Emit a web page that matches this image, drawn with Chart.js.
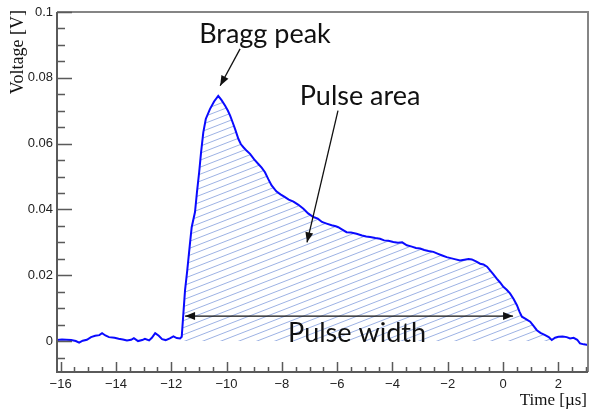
<!DOCTYPE html>
<html>
<head>
<meta charset="utf-8">
<script src="https://cdn.jsdelivr.net/npm/chart.js@4"></script>
<style>
  body { margin: 0; background: #fff; }
  canvas { display: block; }
</style>
</head>
<body>
<canvas id="c" width="590" height="415"></canvas>
<script>
// pulse trace (time in µs, voltage in V)
const time = [
  -16.13, -15.95, -15.80, -15.62, -15.45, -15.33, -15.20, -15.05, -14.90, -14.75,
  -14.60, -14.50, -14.38, -14.25, -14.05, -13.90, -13.75, -13.60, -13.45, -13.35,
  -13.20, -13.05, -12.95, -12.80, -12.70, -12.58, -12.45, -12.33, -12.20, -12.05,
  -11.92, -11.80, -11.68, -11.62, -11.56, -11.50, -11.42, -11.33, -11.26, -11.14,
  -11.07, -10.99, -10.92, -10.84, -10.75, -10.60, -10.45, -10.30, -10.18, -10.05,
  -9.95, -9.87, -9.78, -9.69, -9.57, -9.48, -9.39, -9.27, -9.15, -9.00,
  -8.85, -8.73, -8.61, -8.49, -8.37, -8.20, -8.05, -7.90, -7.75, -7.58,
  -7.40, -7.22, -7.05, -6.86, -6.70, -6.55, -6.38, -6.20, -6.05, -5.96,
  -5.80, -5.66, -5.50, -5.30, -5.10, -4.95, -4.81, -4.62, -4.45, -4.30,
  -4.15, -3.97, -3.80, -3.65, -3.48, -3.30, -3.15, -3.00, -2.85, -2.70,
  -2.52, -2.35, -2.20, -2.04, -1.90, -1.75, -1.56, -1.40, -1.25, -1.13,
  -0.98, -0.83, -0.71, -0.58, -0.47, -0.35, -0.23, -0.11, 0.01, 0.13,
  0.25, 0.38, 0.50, 0.60, 0.68, 0.80, 0.90, 0.98, 1.10, 1.22,
  1.35, 1.52, 1.65, 1.76, 1.88, 2.00, 2.15, 2.30, 2.42, 2.55,
  2.68, 2.78, 2.92, 3.07
];
const voltage = [
  0.0003, 0.0005, 0.0004, 0.0003, 0.0000, -0.0005, 0.0001, 0.0004, 0.0012, 0.0016,
  0.0018, 0.0024, 0.0017, 0.0012, 0.0010, 0.0007, 0.0005, 0.0002, 0.0004, 0.0009,
  0.0000, 0.0003, 0.0007, 0.0002, 0.0010, 0.0024, 0.0016, 0.0006, 0.0003, 0.0008,
  0.0014, 0.0009, 0.0008, 0.0013, 0.0084, 0.0155, 0.0215, 0.0290, 0.0346, 0.0392,
  0.0452, 0.0513, 0.0574, 0.0634, 0.0675, 0.0705, 0.0728, 0.0745, 0.0732, 0.0715,
  0.0700, 0.0685, 0.0665, 0.0644, 0.0614, 0.0598, 0.0589, 0.0578, 0.0569, 0.0552,
  0.0538, 0.0527, 0.0513, 0.0492, 0.0473, 0.0455, 0.0446, 0.0438, 0.0430, 0.0424,
  0.0414, 0.0402, 0.0388, 0.0377, 0.0372, 0.0362, 0.0357, 0.0352, 0.0349, 0.0346,
  0.0338, 0.0331, 0.0330, 0.0326, 0.0321, 0.0318, 0.0316, 0.0313, 0.0311, 0.0306,
  0.0305, 0.0301, 0.0299, 0.0300, 0.0291, 0.0287, 0.0283, 0.0281, 0.0277, 0.0274,
  0.0271, 0.0265, 0.0260, 0.0255, 0.0252, 0.0249, 0.0245, 0.0247, 0.0249, 0.0248,
  0.0242, 0.0235, 0.0233, 0.0226, 0.0215, 0.0203, 0.0190, 0.0178, 0.0165, 0.0156,
  0.0145, 0.0128, 0.0109, 0.0088, 0.0074, 0.0068, 0.0063, 0.0059, 0.0046, 0.0033,
  0.0025, 0.0018, 0.0012, 0.0003, 0.0010, 0.0013, 0.0014, 0.0012, 0.0008, 0.0010,
  0.0004, -0.0007, -0.0010, -0.0012
];

// axis ranges and tick spacing
const xMin = -16.13, xMax = 3.07, xMajor = 2, xMinor = 0.5;
const yMin = -0.0094, yMax = 0.1, yMajor = 0.02, yMinor = 0.005;
// part of the pulse that gets hatched
const pulseStart = -11.62, pulseEnd = 1.76;

const trace = time.map((t, i) => ({x: t, y: voltage[i]}));
const pulse = trace.filter(p => p.x >= pulseStart && p.x <= pulseEnd);

const ctx = document.getElementById('c').getContext('2d');

// slanted hatch like ROOT's fill style
function hatch() {
  const w = 18, h = 7;
  const tile = document.createElement('canvas');
  tile.width = w; tile.height = h;
  const g = tile.getContext('2d');
  g.strokeStyle = '#9db2e4';
  g.lineWidth = 1;
  g.beginPath();
  for (const dy of [-h, 0, h]) {
    g.moveTo(0, h + dy);
    g.lineTo(w, dy);
  }
  g.stroke();
  return ctx.createPattern(tile, 'repeat');
}

const minus = v => String(v).replace('-', '\u2212');
const near = (v, step) => Math.abs(v / step - Math.round(v / step)) < 1e-6;

// text + arrows, given in data coordinates
const labels = [
  {text: 'Bragg peak', x: -8.61, y: 0.0907},
  {text: 'Pulse area', x: -5.17, y: 0.0716},
  {text: 'Pulse width', x: -5.28, y: -0.0003}
];
const arrows = [
  {from: [-9.51, 0.0888], to: [-10.23, 0.0776], both: false},
  {from: [-5.97, 0.0700], to: [-7.09, 0.0300], both: false},
  {from: [0.36, 0.00758], to: [-11.50, 0.00758], both: true}
];

function head(c, x1, y1, x2, y2) {
  const a = Math.atan2(y2 - y1, x2 - x1), len = 10, wd = 4;
  c.beginPath();
  c.moveTo(x2, y2);
  c.lineTo(x2 - len * Math.cos(a) + wd * Math.sin(a), y2 - len * Math.sin(a) - wd * Math.cos(a));
  c.lineTo(x2 - len * Math.cos(a) - wd * Math.sin(a), y2 - len * Math.sin(a) + wd * Math.cos(a));
  c.closePath();
  c.fill();
}

const frame = {
  id: 'frame',
  afterDraw(chart) {
    const c = chart.ctx, a = chart.chartArea;
    const xs = chart.scales.x, ys = chart.scales.y;
    c.save();
    // box
    c.strokeStyle = '#858585';
    c.lineWidth = 2;
    c.beginPath();
    c.moveTo(a.left, a.top); c.lineTo(a.right, a.top); c.lineTo(a.right, a.bottom);
    c.stroke();
    c.strokeStyle = '#5a5a5a';
    c.beginPath();
    c.moveTo(a.left, a.top); c.lineTo(a.left, a.bottom); c.lineTo(a.right, a.bottom);
    c.stroke();
    // inward ticks
    c.lineWidth = 1.5;
    c.beginPath();
    for (let v = Math.ceil(xMin / xMinor) * xMinor; v <= xMax; v += xMinor) {
      const px = Math.round(xs.getPixelForValue(v)) + 0.5;
      const len = near(v, xMajor) ? 10 : 5;
      c.moveTo(px, a.bottom); c.lineTo(px, a.bottom - len);
    }
    for (let v = Math.ceil(yMin / yMinor) * yMinor; v <= yMax + 1e-9; v += yMinor) {
      const py = Math.round(ys.getPixelForValue(v)) + 0.5;
      const len = near(v, yMajor) ? 15 : 8;
      c.moveTo(a.left, py); c.lineTo(a.left + len, py);
    }
    c.stroke();
    // axis titles
    c.fillStyle = '#111';
    c.font = '18px "Liberation Serif"';
    c.save();
    c.translate(23, a.top - 2);
    c.rotate(-Math.PI / 2);
    c.textAlign = 'right';
    c.textBaseline = 'alphabetic';
    c.fillText('Voltage [V]', 0, 0);
    c.restore();
    c.font = '17px "Liberation Serif"';
    c.textAlign = 'right';
    c.fillText('Time [\u00b5s]', 587, 405);
    // annotations
    c.font = '27px Lato';
    c.textAlign = 'center';
    for (const l of labels) {
      c.fillText(l.text, xs.getPixelForValue(l.x), ys.getPixelForValue(l.y));
    }
    c.strokeStyle = '#111';
    c.lineWidth = 1.3;
    for (const ar of arrows) {
      const x1 = xs.getPixelForValue(ar.from[0]), y1 = ys.getPixelForValue(ar.from[1]);
      const x2 = xs.getPixelForValue(ar.to[0]), y2 = ys.getPixelForValue(ar.to[1]);
      c.beginPath(); c.moveTo(x1, y1); c.lineTo(x2, y2); c.stroke();
      head(c, x1, y1, x2, y2);
      if (ar.both) head(c, x2, y2, x1, y1);
    }
    c.restore();
  }
};

new Chart(ctx, {
  type: 'line',
  data: {
    datasets: [
      {
        data: trace,
        borderColor: '#0a0aff',
        borderWidth: 2,
        pointRadius: 0,
        tension: 0,
        fill: false
      },
      {
        data: pulse,
        borderWidth: 0,
        pointRadius: 0,
        tension: 0,
        backgroundColor: hatch(),
        fill: 'origin'
      }
    ]
  },
  options: {
    responsive: false,
    animation: false,
    layout: {padding: {top: 12, right: 2, left: 0, bottom: 0}},
    plugins: {legend: {display: false}, tooltip: {enabled: false}},
    scales: {
      x: {
        type: 'linear',
        min: xMin,
        max: xMax,
        grid: {display: false, drawTicks: false},
        border: {display: false},
        afterBuildTicks: s => { s.ticks = s.ticks.filter(t => near(t.value, xMajor)); },
        afterFit: s => { s.height = 43; },
        ticks: {
          stepSize: xMajor,
          includeBounds: false,
          autoSkip: false,
          padding: 5,
          maxRotation: 0,
          color: '#222',
          font: {family: '"Liberation Sans"', size: 13},
          callback: v => minus(Math.round(v))
        }
      },
      y: {
        min: yMin,
        max: yMax,
        grid: {display: false, drawTicks: false},
        border: {display: false},
        afterBuildTicks: s => { s.ticks = s.ticks.filter(t => near(t.value, yMajor)); },
        afterFit: s => { s.width = 57; },
        ticks: {
          stepSize: yMajor,
          includeBounds: false,
          autoSkip: false,
          padding: 4,
          color: '#222',
          font: {family: '"Liberation Sans"', size: 13},
          callback: v => String(+v.toFixed(3))
        }
      }
    }
  },
  plugins: [frame]
});
</script>
</body>
</html>
